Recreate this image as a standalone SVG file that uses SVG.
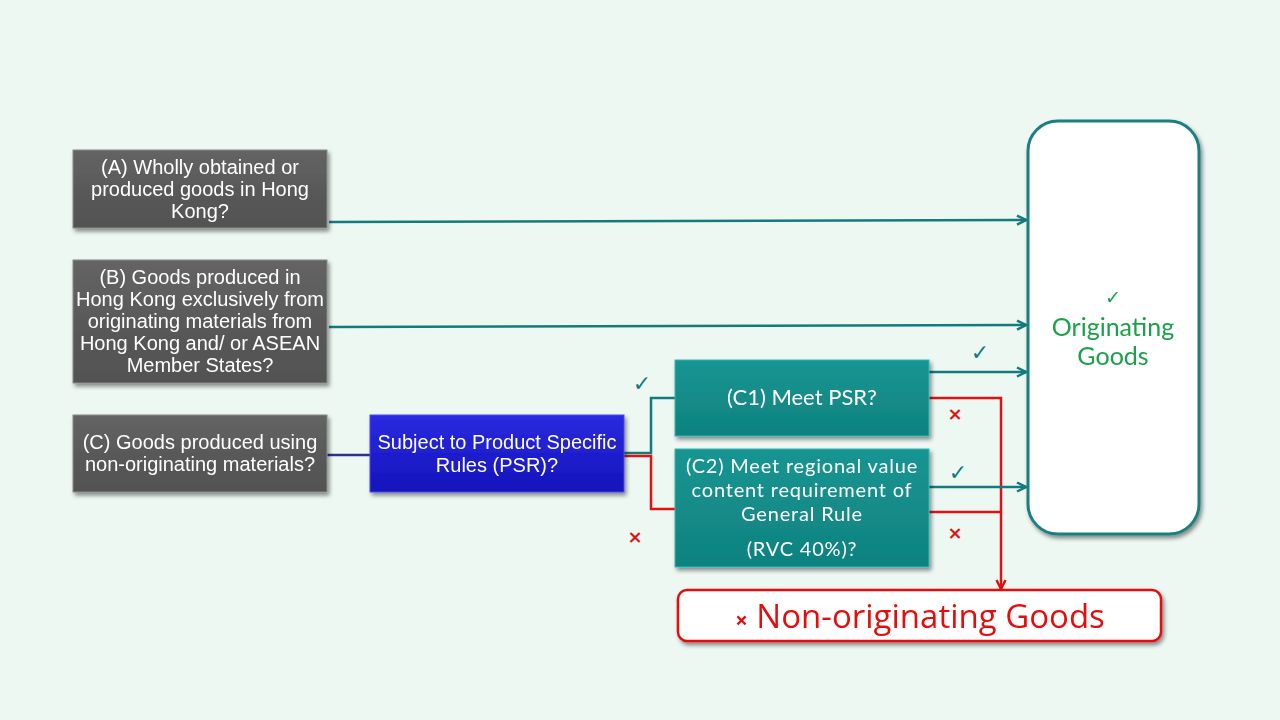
<svg xmlns="http://www.w3.org/2000/svg" width="1280" height="720" viewBox="0 0 1280 720">
<defs>
<filter id="sh" x="-10%" y="-10%" width="130%" height="140%">
<feGaussianBlur in="SourceAlpha" stdDeviation="2"/>
<feOffset dx="2" dy="3"/>
<feComponentTransfer><feFuncA type="linear" slope="0.45"/></feComponentTransfer>
<feMerge><feMergeNode/><feMergeNode in="SourceGraphic"/></feMerge>
</filter>
<linearGradient id="gGray" x1="0" y1="0" x2="0" y2="1">
<stop offset="0" stop-color="#646464"/><stop offset="0.5" stop-color="#595959"/><stop offset="1" stop-color="#525252"/>
</linearGradient>
<linearGradient id="gBlue" x1="0" y1="0" x2="0" y2="1">
<stop offset="0" stop-color="#2a2ae0"/><stop offset="1" stop-color="#1414bc"/>
</linearGradient>
<linearGradient id="gTeal" x1="0" y1="0" x2="0" y2="1">
<stop offset="0" stop-color="#179592"/><stop offset="1" stop-color="#0f8280"/>
</linearGradient>
<marker id="aT" viewBox="0 0 12 12" refX="11" refY="6" markerWidth="12" markerHeight="12" orient="auto" markerUnits="userSpaceOnUse">
<path d="M2,1.5 L11,6 L2,10.5" fill="none" stroke="#137b7b" stroke-width="2.5"/>
</marker>
<marker id="aR" viewBox="0 0 12 12" refX="11" refY="6" markerWidth="12" markerHeight="12" orient="auto" markerUnits="userSpaceOnUse">
<path d="M2,1.5 L11,6 L2,10.5" fill="none" stroke="#e31010" stroke-width="2.5"/>
</marker>
<style>
.gray{fill:url(#gGray);stroke:#8a8a8a;stroke-width:1}
.gt{font-family:"Liberation Sans",Arial,sans-serif;font-size:20px;fill:#ffffff;text-anchor:middle}
.tt{font-family:Lato,"Open Sans",sans-serif;font-size:22px;fill:#ffffff;text-anchor:middle}
.t2{font-family:Lato,"Open Sans",sans-serif;font-size:20px;letter-spacing:0.8px;fill:#ffffff;text-anchor:middle}
.og{font-family:Lato,"Open Sans",sans-serif;font-size:25px;fill:#1aa04a;text-anchor:middle}
.teal{stroke:#137b7b;stroke-width:2.5;fill:none}
.red{stroke:#e31010;stroke-width:2.5;fill:none}
.ck{font-family:"DejaVu Sans",sans-serif;font-size:22px;fill:#137b7b;text-anchor:middle}
.x{font-family:"DejaVu Sans",sans-serif;font-size:18px;font-weight:bold;fill:#e31010;text-anchor:middle}
</style>
</defs>
<rect width="1280" height="720" fill="#eef8f3"/>

<g id="connectors">
<line class="teal" x1="329" y1="222" x2="1026" y2="220" marker-end="url(#aT)"/>
<line class="teal" x1="329" y1="327" x2="1026" y2="325" marker-end="url(#aT)"/>
<line x1="327" y1="455" x2="371" y2="455" stroke="#2f3192" stroke-width="2.5"/>
<polyline class="teal" points="624,453 651,453 651,398 676,398"/>
<polyline class="red" points="624,456 651,456 651,509 676,509"/>
<line class="teal" x1="929" y1="372" x2="1026" y2="372" marker-end="url(#aT)"/>
<polyline class="red" points="929,398 1001,398 1001,589" marker-end="url(#aR)"/>
<line class="teal" x1="929" y1="487" x2="1026" y2="487" marker-end="url(#aT)"/>
<line class="red" x1="929" y1="512" x2="1001" y2="512"/>
<text class="ck" x="642" y="391">✓</text>
<text class="ck" x="980" y="360">✓</text>
<text class="ck" x="958" y="480">✓</text>
<text class="x" x="955" y="420">×</text>
<text class="x" x="635" y="543">×</text>
<text class="x" x="955" y="539">×</text>
</g>

<g id="nodeA" filter="url(#sh)">
<rect class="gray" x="73" y="150" width="254" height="78"/>
<text class="gt" x="200" y="174">(A) Wholly obtained or</text>
<text class="gt" x="200" y="196">produced goods in Hong</text>
<text class="gt" x="200" y="218">Kong?</text>
</g>

<g id="nodeB" filter="url(#sh)">
<rect class="gray" x="73" y="260" width="254" height="123"/>
<text class="gt" x="200" y="284">(B) Goods produced in</text>
<text class="gt" x="200" y="306">Hong Kong exclusively from</text>
<text class="gt" x="200" y="328">originating materials from</text>
<text class="gt" x="200" y="350">Hong Kong and/ or ASEAN</text>
<text class="gt" x="200" y="372">Member States?</text>
</g>

<g id="nodeC" filter="url(#sh)">
<rect class="gray" x="73" y="415" width="254" height="77"/>
<text class="gt" x="200" y="449">(C) Goods produced using</text>
<text class="gt" x="200" y="471">non-originating  materials?</text>
</g>

<g id="nodePSR" filter="url(#sh)">
<rect x="370" y="415" width="254" height="77" fill="url(#gBlue)" stroke="#4a4af0" stroke-width="1"/>
<text class="gt" x="497" y="449">Subject to Product Specific</text>
<text class="gt" x="497" y="472">Rules (PSR)?</text>
</g>

<g id="nodeC1" filter="url(#sh)">
<rect x="675" y="360" width="254" height="76" fill="url(#gTeal)" stroke="#3ab5b2" stroke-width="1"/>
<text class="tt" x="802" y="405">(C1) Meet PSR?</text>
</g>

<g id="nodeC2" filter="url(#sh)">
<rect x="675" y="449" width="254" height="118" fill="url(#gTeal)" stroke="#3ab5b2" stroke-width="1"/>
<text class="t2" x="802" y="473">(C2) Meet regional value</text>
<text class="t2" x="802" y="497">content requirement of</text>
<text class="t2" x="802" y="521">General Rule</text>
<text class="t2" x="802" y="556">(RVC 40%)?</text>
</g>

<g id="nodeOrig" filter="url(#sh)">
<rect x="1028" y="121" width="171" height="413" rx="30" ry="30" fill="#ffffff" stroke="#1a7f7f" stroke-width="3"/>
<text x="1113" y="304" font-family="DejaVu Sans,sans-serif" font-size="19" fill="#1aa04a" text-anchor="middle">✓</text>
<text class="og" x="1113" y="336">Originating</text>
<text class="og" x="1113" y="365">Goods</text>
</g>

<g id="nodeNonOrig" filter="url(#sh)">
<rect x="678" y="590" width="483" height="51" rx="9" ry="9" fill="#ffffff" stroke="#e31010" stroke-width="2.5"/>
<text x="920" y="628" font-family="Open Sans,Noto Sans,sans-serif" font-size="33" fill="#e31010" text-anchor="middle"><tspan font-size="22" font-weight="bold">×</tspan> Non-originating Goods</text>
</g>
</svg>
